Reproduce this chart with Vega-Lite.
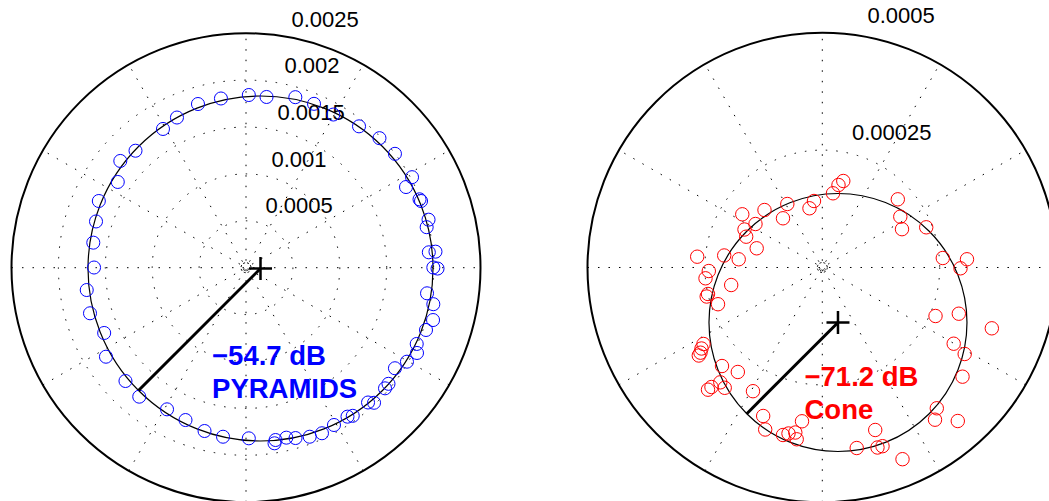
{
  "$schema": "https://vega.github.io/schema/vega-lite/v6.json",
  "padding": 0,
  "background": "white",
  "spacing": 0,
  "bounds": "flush",
  "resolve": {"scale": {"size": "independent", "x": "independent", "y": "independent"}},
  "config": {"view": {"stroke": null}, "font": "Liberation Sans"},
  "hconcat": [
    {
      "width": 530,
      "height": 501,
      "encoding": {
        "x": {"field": "x", "type": "quantitative", "scale": {"domain": [-0.0026226, 0.0030277], "nice": false, "zero": false}, "axis": null},
        "y": {"field": "y", "type": "quantitative", "scale": {"domain": [-0.0024872, 0.0028539], "nice": false, "zero": false}, "axis": null}
      },
      "layer": [
        {
          "data": {"values": [
            {"x": -0.0025, "y": 0, "x2": 0.0025, "y2": 0},
            {"x": -0.0021651, "y": -0.00125, "x2": 0.0021651, "y2": 0.00125},
            {"x": -0.00125, "y": -0.0021651, "x2": 0.00125, "y2": 0.0021651},
            {"x": 0, "y": -0.0025, "x2": 0, "y2": 0.0025},
            {"x": 0.00125, "y": -0.0021651, "x2": -0.00125, "y2": 0.0021651},
            {"x": 0.0021651, "y": -0.00125, "x2": -0.0021651, "y2": 0.00125}
          ]},
          "mark": {"type": "rule", "stroke": "#000000", "strokeWidth": 1, "strokeDash": [1.5, 9], "clip": true},
          "encoding": {"x2": {"field": "x2"}, "y2": {"field": "y2"}}
        },
        {
          "data": {"values": [
            {"x": 0, "y": 0, "r": 0.0005},
            {"x": 0, "y": 0, "r": 0.001},
            {"x": 0, "y": 0, "r": 0.0015},
            {"x": 0, "y": 0, "r": 0.002}
          ]},
          "mark": {"type": "point", "shape": "circle", "filled": false, "stroke": "#000000", "strokeWidth": 1, "strokeDash": [1.5, 9], "opacity": 1, "clip": true},
          "encoding": {"size": {"field": "r", "type": "quantitative", "scale": {"type": "pow", "exponent": 2, "domain": [0, 0.0025], "range": [0, 219961]}, "legend": null}}
        },
        {
          "data": {"values": [{"x": 0, "y": 0, "r": 0.0000533}]},
          "mark": {"type": "point", "shape": "circle", "filled": false, "stroke": "#000000", "strokeWidth": 1, "strokeDash": [2, 2], "opacity": 1, "clip": true},
          "encoding": {"size": {"field": "r", "type": "quantitative", "scale": {"type": "pow", "exponent": 2, "domain": [0, 0.0025], "range": [0, 219961]}, "legend": null}}
        },
        {
          "data": {"values": [{"x": 0, "y": 0, "r": 0.0025}]},
          "mark": {"type": "point", "shape": "circle", "filled": false, "stroke": "#000000", "strokeWidth": 2, "opacity": 1, "clip": true},
          "encoding": {"size": {"field": "r", "type": "quantitative", "scale": {"type": "pow", "exponent": 2, "domain": [0, 0.0025], "range": [0, 219961]}, "legend": null}}
        },
        {
          "data": {"values": [
            {"x": 0.000485, "y": 0.002566, "label": "0.0025"},
            {"x": 0.000410, "y": 0.002076, "label": "0.002"},
            {"x": 0.000336, "y": 0.001575, "label": "0.0015"},
            {"x": 0.000272, "y": 0.001074, "label": "0.001"},
            {"x": 0.000208, "y": 0.000583, "label": "0.0005"}
          ]},
          "mark": {"type": "text", "align": "left", "baseline": "alphabetic", "fontSize": 22, "font": "Liberation Sans", "color": "#000000", "clip": true},
          "encoding": {"text": {"field": "label"}}
        },
        {
          "data": {"values": [{"x": 0.0001546, "y": -0.0000085, "r": 0.001839}]},
          "mark": {"type": "point", "shape": "circle", "filled": false, "stroke": "#000000", "strokeWidth": 1.2, "opacity": 1, "clip": true},
          "encoding": {"size": {"field": "r", "type": "quantitative", "scale": {"type": "pow", "exponent": 2, "domain": [0, 0.0025], "range": [0, 219961]}, "legend": null}}
        },
        {
          "data": {"values": [
            {"x": -0.001620, "y": 0.000002}, {"x": -0.001628, "y": 0.000267}, {"x": -0.001599, "y": 0.000493},
            {"x": -0.001569, "y": 0.000711}, {"x": -0.001367, "y": 0.000914}, {"x": -0.001340, "y": 0.001138},
            {"x": -0.001178, "y": 0.001247}, {"x": -0.000885, "y": 0.001479}, {"x": -0.000736, "y": 0.001601},
            {"x": -0.000512, "y": 0.001745}, {"x": -0.000267, "y": 0.001804}, {"x": 0.000030, "y": 0.001841},
            {"x": 0.000219, "y": 0.001820}, {"x": 0.000526, "y": 0.001818}, {"x": 0.000725, "y": 0.001747},
            {"x": 0.000931, "y": 0.001633}, {"x": 0.001205, "y": 0.001507}, {"x": 0.001423, "y": 0.001381},
            {"x": 0.001588, "y": 0.001214}, {"x": 0.001770, "y": 0.000965}, {"x": 0.001706, "y": 0.000860},
            {"x": 0.001850, "y": 0.000729}, {"x": 0.001866, "y": 0.000711}, {"x": 0.001946, "y": 0.000512},
            {"x": 0.001926, "y": 0.000432}, {"x": 0.002020, "y": 0.000171}, {"x": 0.001949, "y": 0.000164},
            {"x": 0.001997, "y": 0.000002}, {"x": 0.002042, "y": -0.000009}, {"x": 0.001930, "y": -0.000273},
            {"x": 0.001997, "y": -0.000389}, {"x": 0.001994, "y": -0.000558}, {"x": 0.001919, "y": -0.000664},
            {"x": 0.001820, "y": -0.000813}, {"x": 0.001823, "y": -0.000909}, {"x": 0.001716, "y": -0.001002},
            {"x": 0.001588, "y": -0.001072}, {"x": 0.001519, "y": -0.001238}, {"x": 0.001482, "y": -0.001286},
            {"x": 0.001365, "y": -0.001440}, {"x": 0.001301, "y": -0.001437}, {"x": 0.001138, "y": -0.001579},
            {"x": 0.001082, "y": -0.001588}, {"x": 0.000938, "y": -0.001677}, {"x": 0.000810, "y": -0.001765},
            {"x": 0.000679, "y": -0.001802}, {"x": 0.000528, "y": -0.001816}, {"x": 0.000430, "y": -0.001812},
            {"x": 0.000315, "y": -0.001837}, {"x": 0.000304, "y": -0.001872}, {"x": 0.000030, "y": -0.001819},
            {"x": -0.000245, "y": -0.001802}, {"x": -0.000442, "y": -0.001741}, {"x": -0.000645, "y": -0.001624},
            {"x": -0.000842, "y": -0.001510}, {"x": -0.001138, "y": -0.001375}, {"x": -0.001285, "y": -0.001208},
            {"x": -0.001493, "y": -0.000949}, {"x": -0.001512, "y": -0.000696}, {"x": -0.001663, "y": -0.000486},
            {"x": -0.001698, "y": -0.000238}
          ]},
          "mark": {"type": "point", "shape": "circle", "filled": false, "stroke": "#0000ff", "strokeWidth": 1, "size": 170, "opacity": 1, "clip": true}
        },
        {
          "data": {"values": [{"x": 0.0001546, "y": -0.0000085, "x2": -0.0011458, "y2": -0.0013089}]},
          "mark": {"type": "rule", "stroke": "#000000", "strokeWidth": 3, "clip": true},
          "encoding": {"x2": {"field": "x2"}, "y2": {"field": "y2"}}
        },
        {
          "data": {"values": [{"x": 0.0001546, "y": -0.0000085}]},
          "mark": {"type": "point", "shape": "M-1,0L1,0M0,-1L0,1", "filled": false, "stroke": "#000000", "strokeWidth": 2.5, "size": 529, "opacity": 1, "clip": true}
        },
        {
          "data": {"values": [
            {"x": -0.000362, "y": -0.001037, "label": "−54.7 dB"},
            {"x": -0.000362, "y": -0.001386, "label": "PYRAMIDS"}
          ]},
          "mark": {"type": "text", "align": "left", "baseline": "alphabetic", "fontSize": 27.5, "fontWeight": "bold", "font": "Liberation Sans", "color": "#0000ff", "clip": true},
          "encoding": {"text": {"field": "label"}}
        }
      ]
    },
    {
      "width": 519,
      "height": 501,
      "encoding": {
        "x": {"field": "x", "type": "quantitative", "scale": {"domain": [-0.00062244, 0.00048275], "nice": false, "zero": false}, "axis": null},
        "y": {"field": "y", "type": "quantitative", "scale": {"domain": [-0.00049723, 0.00056963], "nice": false, "zero": false}, "axis": null}
      },
      "layer": [
        {
          "data": {"values": [
            {"x": -0.0005, "y": 0, "x2": 0.0005, "y2": 0},
            {"x": -0.00043301, "y": -0.00025, "x2": 0.00043301, "y2": 0.00025},
            {"x": -0.00025, "y": -0.00043301, "x2": 0.00025, "y2": 0.00043301},
            {"x": 0, "y": -0.0005, "x2": 0, "y2": 0.0005},
            {"x": 0.00025, "y": -0.00043301, "x2": -0.00025, "y2": 0.00043301},
            {"x": 0.00043301, "y": -0.00025, "x2": -0.00043301, "y2": 0.00025}
          ]},
          "mark": {"type": "rule", "stroke": "#000000", "strokeWidth": 1, "strokeDash": [1.5, 9], "clip": true},
          "encoding": {"x2": {"field": "x2"}, "y2": {"field": "y2"}}
        },
        {
          "data": {"values": [{"x": 0, "y": 0, "r": 0.00025}]},
          "mark": {"type": "point", "shape": "circle", "filled": false, "stroke": "#000000", "strokeWidth": 1, "strokeDash": [1.5, 9], "opacity": 1, "clip": true},
          "encoding": {"size": {"field": "r", "type": "quantitative", "scale": {"type": "pow", "exponent": 2, "domain": [0, 0.0005], "range": [0, 220524]}, "legend": null}}
        },
        {
          "data": {"values": [{"x": 0, "y": 0, "r": 0.0000106}]},
          "mark": {"type": "point", "shape": "circle", "filled": false, "stroke": "#000000", "strokeWidth": 1, "strokeDash": [2, 2], "opacity": 1, "clip": true},
          "encoding": {"size": {"field": "r", "type": "quantitative", "scale": {"type": "pow", "exponent": 2, "domain": [0, 0.0005], "range": [0, 220524]}, "legend": null}}
        },
        {
          "data": {"values": [{"x": 0, "y": 0, "r": 0.0005}]},
          "mark": {"type": "point", "shape": "circle", "filled": false, "stroke": "#000000", "strokeWidth": 2, "opacity": 1, "clip": true},
          "encoding": {"size": {"field": "r", "type": "quantitative", "scale": {"type": "pow", "exponent": 2, "domain": [0, 0.0005], "range": [0, 220524]}, "legend": null}}
        },
        {
          "data": {"values": [
            {"x": 0.0000963, "y": 0.0005196, "label": "0.0005"},
            {"x": 0.0000632, "y": 0.0002715, "label": "0.00025"}
          ]},
          "mark": {"type": "text", "align": "left", "baseline": "alphabetic", "fontSize": 22, "font": "Liberation Sans", "color": "#000000", "clip": true},
          "encoding": {"text": {"field": "label"}}
        },
        {
          "data": {"values": [{"x": 0.0000334, "y": -0.0001171, "r": 0.0002747}]},
          "mark": {"type": "point", "shape": "circle", "filled": false, "stroke": "#000000", "strokeWidth": 1.2, "opacity": 1, "clip": true},
          "encoding": {"size": {"field": "r", "type": "quantitative", "scale": {"type": "pow", "exponent": 2, "domain": [0, 0.0005], "range": [0, 220524]}, "legend": null}}
        },
        {
          "data": {"values": [
            {"x": 0.0000447, "y": 0.0001842}, {"x": 0.0000345, "y": 0.0001757}, {"x": 0.0000228, "y": 0.0001580},
            {"x": -0.0000177, "y": 0.0001416}, {"x": -0.0000273, "y": 0.0001261}, {"x": -0.0000745, "y": 0.0001352},
            {"x": -0.0000837, "y": 0.0001048}, {"x": -0.0001231, "y": 0.0001224}, {"x": -0.0001704, "y": 0.0001133},
            {"x": -0.0001423, "y": 0.0000926}, {"x": -0.0001657, "y": 0.0000809}, {"x": -0.0001621, "y": 0.0000656},
            {"x": -0.0001397, "y": 0.0000409}, {"x": -0.0002089, "y": 0.0000256}, {"x": -0.0001780, "y": 0.0000175},
            {"x": -0.0002664, "y": 0.0000230}, {"x": -0.0002417, "y": -0.0000075}, {"x": -0.0002487, "y": -0.0000230},
            {"x": -0.0001940, "y": -0.0000373}, {"x": -0.0002434, "y": -0.0000564}, {"x": -0.0002462, "y": -0.0000618},
            {"x": -0.0002221, "y": -0.0000782}, {"x": -0.0002530, "y": -0.0001629}, {"x": -0.0002572, "y": -0.0001725},
            {"x": -0.0002594, "y": -0.0001814}, {"x": -0.0002630, "y": -0.0001874}, {"x": -0.0002136, "y": -0.0002098},
            {"x": -0.0001799, "y": -0.0002225}, {"x": -0.0002172, "y": -0.0002445}, {"x": -0.0002078, "y": -0.0002562},
            {"x": -0.0002434, "y": -0.0002602}, {"x": -0.0002360, "y": -0.0002545}, {"x": -0.0001476, "y": -0.0002634},
            {"x": -0.0001259, "y": -0.0003162}, {"x": -0.0001216, "y": -0.0003450}, {"x": -0.0000837, "y": -0.0003567},
            {"x": -0.0000720, "y": -0.0003535}, {"x": -0.0000575, "y": -0.0003514}, {"x": -0.0000545, "y": -0.0003658},
            {"x": -0.0000432, "y": -0.0003275}, {"x": 0.0000733, "y": -0.0003844}, {"x": 0.0001127, "y": -0.0003460},
            {"x": 0.0001175, "y": -0.0003833}, {"x": 0.0001282, "y": -0.0003805}, {"x": 0.0001708, "y": -0.0004082},
            {"x": 0.0002438, "y": -0.0002998}, {"x": 0.0002400, "y": -0.0003241}, {"x": 0.0002885, "y": -0.0003269},
            {"x": 0.0002986, "y": -0.0002325}, {"x": 0.0002798, "y": -0.0001623}, {"x": 0.0003032, "y": -0.0001842},
            {"x": 0.0003610, "y": -0.0001295}, {"x": 0.0002411, "y": -0.0001033}, {"x": 0.0002907, "y": -0.0000984},
            {"x": 0.0002943, "y": -0.0000017}, {"x": 0.0003081, "y": 0.0000175}, {"x": 0.0002566, "y": 0.0000202},
            {"x": 0.0002213, "y": 0.0000856}, {"x": 0.0001697, "y": 0.0000816}, {"x": 0.0001661, "y": 0.0001082},
            {"x": 0.0001608, "y": 0.0001452}
          ]},
          "mark": {"type": "point", "shape": "circle", "filled": false, "stroke": "#ff0000", "strokeWidth": 1, "size": 180, "opacity": 1, "clip": true}
        },
        {
          "data": {"values": [{"x": 0.0000334, "y": -0.0001171, "x2": -0.0001608, "y2": -0.0003113}]},
          "mark": {"type": "rule", "stroke": "#000000", "strokeWidth": 3, "clip": true},
          "encoding": {"x2": {"field": "x2"}, "y2": {"field": "y2"}}
        },
        {
          "data": {"values": [{"x": 0.0000334, "y": -0.0001171}]},
          "mark": {"type": "point", "shape": "M-1,0L1,0M0,-1L0,1", "filled": false, "stroke": "#000000", "strokeWidth": 2.5, "size": 529, "opacity": 1, "clip": true}
        },
        {
          "data": {"values": [
            {"x": -0.0000379, "y": -0.0002534, "label": "−71.2 dB"},
            {"x": -0.0000379, "y": -0.0003216, "label": "Cone"}
          ]},
          "mark": {"type": "text", "align": "left", "baseline": "alphabetic", "fontSize": 27.5, "fontWeight": "bold", "font": "Liberation Sans", "color": "#ff0000", "clip": true},
          "encoding": {"text": {"field": "label"}}
        }
      ]
    }
  ]
}
